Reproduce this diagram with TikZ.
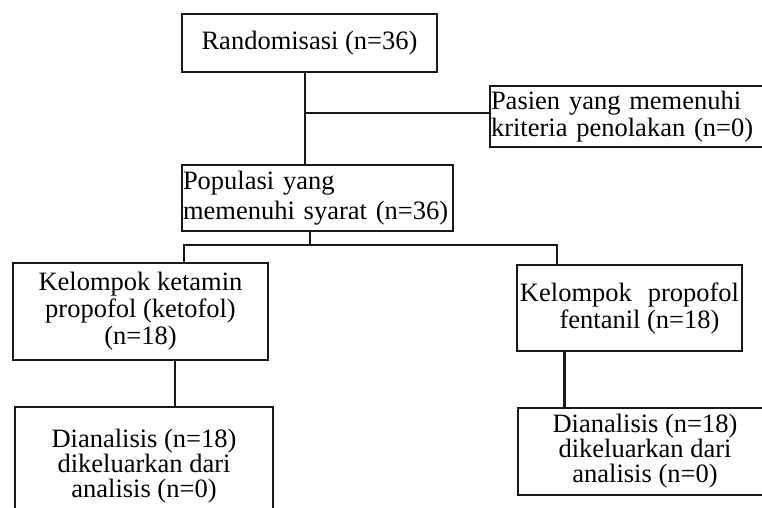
\documentclass[tikz,border=0pt]{standalone}
\usepackage{fontspec}
\setmainfont{Liberation Serif}
\usetikzlibrary{positioning}

\begin{document}
\begin{tikzpicture}[x=1pt,y=-1pt,
    box/.style={draw=black!90,line width=2.3pt,inner xsep=1pt,inner ysep=1pt,
                font=\fontsize{26.5}{27}\selectfont},
    link/.style={draw=black!90,line width=2.3pt}]
  \useasboundingbox (0,0) rectangle (762,507);
  \clip (0,0) rectangle (762,507);

  \node[box,minimum width=255pt,minimum height=58pt] (rand) at (309.5,43) {Randomisasi (n=36)};
  \node[box,text width=278pt,align=left,minimum height=61pt] (crit) at (630,116.5)
       {Pasien yang memenuhi\\kriteria penolakan (n=0)};
  \node[box,text width=269pt,align=left,minimum height=66pt,
        font=\fontsize{26.5}{30}\selectfont] (pop) at (317.5,198)
       {Populasi yang\\memenuhi syarat (n=36)};

  \node[box,align=center,minimum width=255pt,minimum height=97pt] (keto) at (140.5,311.5)
       {Kelompok ketamin\\propofol (ketofol)\\(n=18)};
  \node[box,align=center,minimum width=225pt,minimum height=86pt] (fent) at (629.5,308)
       {Kelompok\hspace{0.6em}propofol\\\hspace*{20pt}fentanil (n=18)};

  \node[box,align=center,minimum width=258pt,minimum height=118pt,
        font=\fontsize{26.5}{25}\selectfont] (anl) at (144,466)
       {Dianalisis (n=18)\\dikeluarkan dari\\analisis (n=0)};
  \node[box,align=center,minimum width=254pt,minimum height=87pt,
        font=\fontsize{26.5}{25}\selectfont] (anr) at (645,451.5)
       {Dianalisis (n=18)\\dikeluarkan dari\\analisis (n=0)};

  \coordinate (spine) at ([xshift=-4.5pt]rand.south);
  \coordinate (tap) at ([yshift=3.5pt]crit.west);
  \draw[link] (spine) -- (spine |- pop.north);
  \draw[link] (spine |- tap) -- (tap);

  \coordinate (stem) at ([xshift=-7.5pt]pop.south);
  \coordinate[below=13pt of stem] (split);
  \coordinate (ltop) at ([xshift=43.5pt]keto.north);
  \coordinate (rtop) at ([xshift=-72.5pt]fent.north);
  \draw[link] (stem) -- (split);
  \draw[link] (ltop) |- (split) -| (rtop);

  \coordinate (lbot) at ([xshift=34.5pt]keto.south);
  \coordinate (rbot) at ([xshift=-65pt]fent.south);
  \draw[link] (lbot) -- (lbot |- anl.north);
  \draw[link] (rbot) -- (rbot |- anr.north);
\end{tikzpicture}
\end{document}
